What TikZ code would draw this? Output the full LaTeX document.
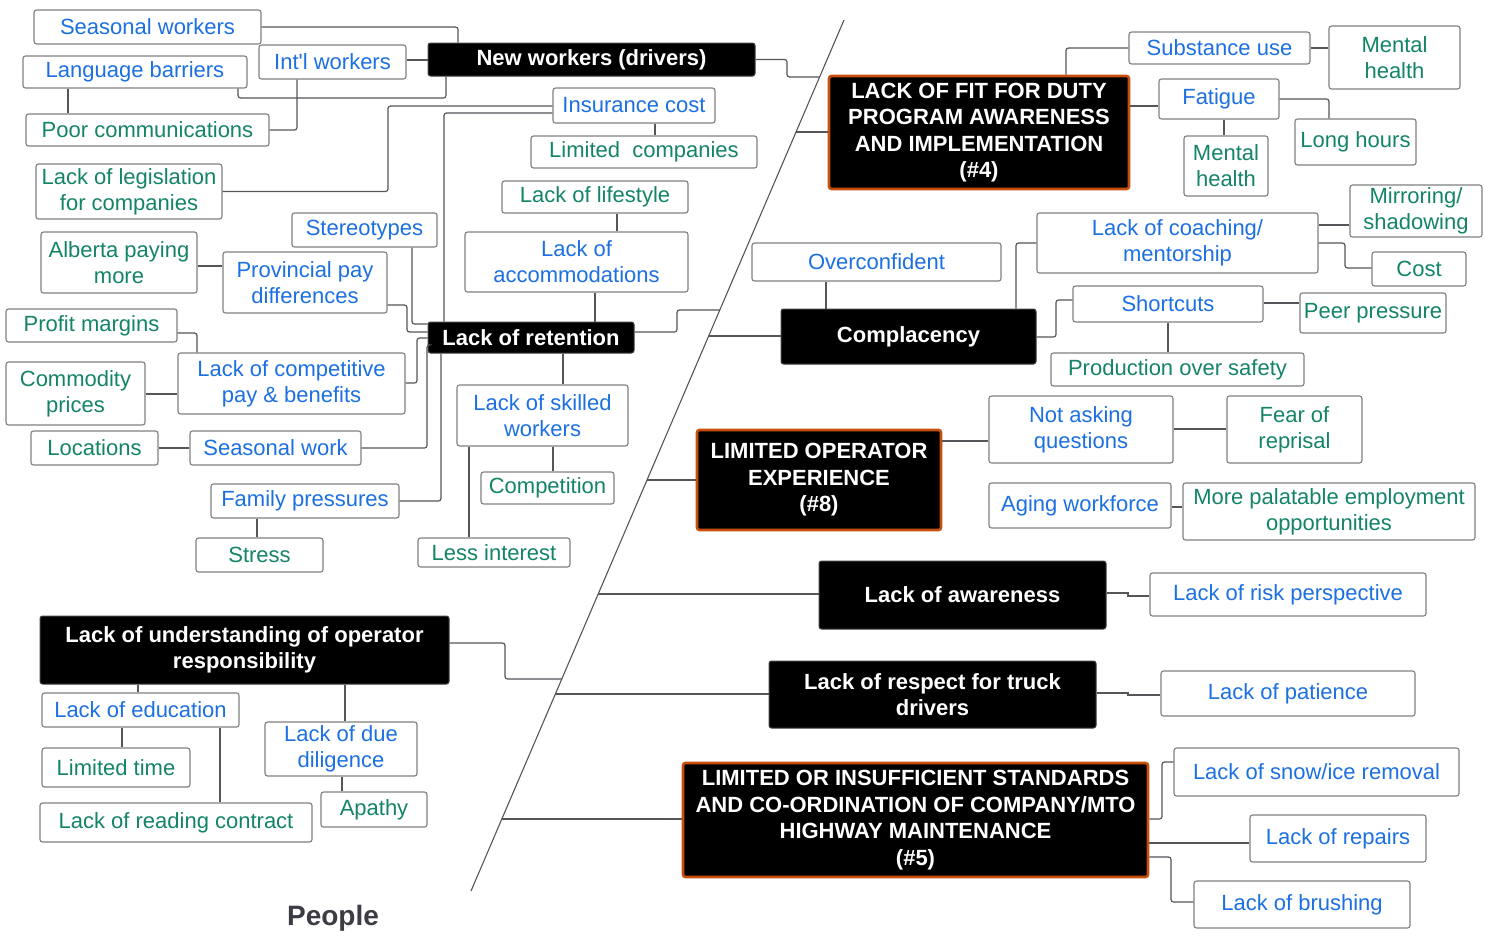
\documentclass[tikz,border=0pt]{standalone}
\usepackage{fontspec}
\setmainfont{Liberation Sans}
\definecolor{tblue}{RGB}{28,112,226}
\definecolor{tgreen}{RGB}{20,132,104}
\definecolor{bgray}{RGB}{128,128,128}
\definecolor{cgray}{RGB}{85,85,90}
\definecolor{oborder}{RGB}{200,80,12}
\definecolor{ptext}{RGB}{60,60,68}
\newcommand\bx[7]{\node[#6, minimum width={(#4-#2)*1pt}, minimum height={(#5-#3)*1pt}] (#1) at ({(#2+#4)/2},{(#3+#5)/2}) {#7};}
\begin{document}
\begin{tikzpicture}[x=1pt,y=-1pt,
  base/.style={inner sep=0pt, align=center, rounded corners=2.5pt, font=\fontsize{22}{26}\selectfont},
  bluebox/.style={base, draw=bgray, line width=1.1pt, fill=white, text=tblue},
  greenbox/.style={base, draw=bgray, line width=1.1pt, fill=white, text=tgreen},
  blackbox/.style={base, draw=black!75, line width=1pt, fill=black, text=white, font=\fontsize{22}{26.5}\selectfont\bfseries},
  orangebox/.style={blackbox, draw=oborder, line width=2.6pt},
  conn/.style={draw=cgray, line width=1.2pt, rounded corners=2.5pt},
  jog/.style={draw=cgray, line width=1.2pt, sharp corners},
  spine/.style={draw=cgray, line width=1.1pt}]
\useasboundingbox (0,0) rectangle (1494,937);

% spine
\coordinate (sp1) at (844,20);
\coordinate (sp2) at (471,891);
\coordinate (j1) at (819.6,77);
\coordinate (j2) at (796.0,132);
\coordinate (j3) at (719.8,310);
\coordinate (j4) at (708.7,336);
\coordinate (j5) at (647.0,480);
\coordinate (j6) at (598.2,594);
\coordinate (j7) at (561.8,679);
\coordinate (j8) at (555.4,694);
\coordinate (j9) at (501.8,819);

% ---------------- left: people / new workers ----------------
\bx{sw}{34}{10}{261}{44}{bluebox}{Seasonal workers}
\bx{iw}{259}{45}{406}{79}{bluebox}{Int\textquotesingle l workers}
\bx{nw}{428}{43}{755}{76}{blackbox}{New workers (drivers)}
\bx{lb}{23}{56}{247}{88}{bluebox}{Language barriers}
\bx{pc}{26}{114}{269}{146}{greenbox}{Poor communications}
\bx{ic}{553}{88}{715}{123}{bluebox}{Insurance cost}
\bx{lc}{531}{136}{757}{168}{greenbox}{Limited\ \ companies}
\bx{ll}{36}{164}{222}{219}{greenbox}{Lack of legislation\\for companies}
\bx{lf}{502}{181}{688}{213}{greenbox}{Lack of lifestyle}
\bx{st}{292}{213}{437}{247}{bluebox}{Stereotypes}
\bx{ap}{41}{232}{197}{293}{greenbox}{Alberta paying\\more}
\bx{pp}{223}{252}{387}{313}{bluebox}{Provincial pay\\differences}
\bx{la}{465}{232}{688}{292}{bluebox}{Lack of\\accommodations}
\bx{lr}{428}{322}{634}{353}{blackbox}{Lack of retention}
\bx{pm}{6}{309}{177}{342}{greenbox}{Profit margins}
\bx{cp}{6}{362}{145}{425}{greenbox}{Commodity\\prices}
\bx{lcp}{178}{353}{405}{414}{bluebox}{Lack of competitive\\pay \& benefits}
\bx{loc}{31}{431}{158}{465}{greenbox}{Locations}
\bx{swk}{190}{431}{361}{465}{bluebox}{Seasonal work}
\bx{lsw}{457}{385}{628}{446}{bluebox}{Lack of skilled\\workers}
\bx{comp}{481}{472}{614}{504}{greenbox}{Competition}
\bx{fp}{211}{484}{399}{518}{bluebox}{Family pressures}
\bx{stress}{196}{538}{323}{572}{greenbox}{Stress}
\bx{li}{418}{538}{570}{567}{greenbox}{Less interest}

% ---------------- lower left ----------------
\bx{lu}{40}{616}{449}{684}{blackbox}{Lack of understanding of operator\\responsibility}
\bx{le}{42}{693}{239}{727}{bluebox}{Lack of education}
\bx{ldd}{265}{722}{417}{776}{bluebox}{Lack of due\\diligence}
\bx{lt}{42}{748}{190}{787}{greenbox}{Limited time}
\bx{apa}{321}{792}{427}{827}{greenbox}{Apathy}
\bx{lrc}{40}{803}{312}{842}{greenbox}{Lack of reading contract}
\node[font=\fontsize{28}{32}\selectfont\bfseries, text=ptext, inner sep=0pt] (people) at (333,918) {People};

% ---------------- right ----------------
\bx{fit}{829}{76}{1129}{189}{orangebox}{LACK OF FIT FOR DUTY\\PROGRAM AWARENESS\\AND IMPLEMENTATION\\(\#4)}
\bx{su}{1129}{32}{1310}{64}{bluebox}{Substance use}
\bx{mh1}{1329}{26}{1460}{89}{greenbox}{Mental\\health}
\bx{fat}{1159}{79}{1279}{119}{bluebox}{Fatigue}
\bx{lh}{1295}{119}{1416}{165}{greenbox}{Long hours}
\bx{mh2}{1184}{136}{1268}{196}{greenbox}{Mental\\health}
\bx{mir}{1350}{185}{1482}{237}{greenbox}{Mirroring/\\shadowing}
\bx{coach}{1037}{213}{1318}{273}{bluebox}{Lack of coaching/\\mentorship}
\bx{over}{752}{243}{1001}{281}{bluebox}{Overconfident}
\bx{cost}{1372}{252}{1466}{286}{greenbox}{Cost}
\bx{compl}{781}{309}{1036}{364}{blackbox}{Complacency}
\bx{short}{1073}{286}{1263}{322}{bluebox}{Shortcuts}
\bx{peer}{1300}{293}{1446}{333}{greenbox}{Peer pressure}
\bx{prod}{1051}{353}{1304}{386}{greenbox}{Production over safety}
\bx{loe}{697}{430}{941}{530}{orangebox}{LIMITED OPERATOR\\EXPERIENCE\\(\#8)}
\bx{naq}{989}{396}{1173}{463}{bluebox}{Not asking\\questions}
\bx{fear}{1227}{396}{1362}{463}{greenbox}{Fear of\\reprisal}
\bx{aging}{989}{483}{1171}{528}{bluebox}{Aging workforce}
\bx{more}{1183}{483}{1475}{540}{greenbox}{More palatable employment\\opportunities}
\bx{aware}{819}{561}{1106}{629}{blackbox}{Lack of awareness}
\bx{risk}{1150}{573}{1426}{616}{bluebox}{Lack of risk perspective}
\bx{respect}{769}{661}{1096}{728}{blackbox}{Lack of respect for truck\\drivers}
\bx{pat}{1161}{671}{1415}{716}{bluebox}{Lack of patience}
\bx{std}{683}{763}{1148}{877}{orangebox}{LIMITED OR INSUFFICIENT STANDARDS\\AND CO-ORDINATION OF COMPANY/MTO\\HIGHWAY MAINTENANCE\\(\#5)}
\bx{snow}{1174}{748}{1459}{796}{bluebox}{Lack of snow/ice removal}
\bx{rep}{1250}{815}{1426}{862}{bluebox}{Lack of repairs}
\bx{brush}{1194}{881}{1410}{928}{bluebox}{Lack of brushing}

% ---------------- connectors ----------------
\draw[spine] (sp1) -- (sp2);
\draw[conn] (sw.east) -| (nw.north -| 458,0);
\draw[conn] (iw.east |- 0,60) -- (nw.west |- 0,60);
\draw[conn] (lb.south -| 238,0) |- (446,98) -- (nw.south -| 446,0);
\draw[conn] (lb.south -| 68,0) -- (pc.north -| 68,0);
\draw[conn] (iw.south -| 297,0) |- (pc.east);
\draw[conn] (nw.east) -| (787,77) -- (j1);
\draw[conn] (ic.west |- 0,106) -| (388,191.5) -- (ll.east);
\draw[conn] (ic.west |- 0,113) -| (lr.north -| 444,0);
\draw[conn] (ic.south -| 655,0) -- (lc.north -| 655,0);
\draw[conn] (lf.south -| 617,0) -- (la.north -| 617,0);
\draw[conn] (la.south -| 595,0) -- (lr.north -| 595,0);
\draw[conn] (lr.east |- 0,332) -| (677,310) -- (j3);
\draw[conn] (st.south -| 412,0) |- (lr.west |- 0,324);
\draw[conn] (pp.east |- 0,305) -| (407,332) -- (lr.west |- 0,332);
\draw[conn] (lcp.east |- 0,383) -| (417,338) -- (lr.west |- 0,338);
\draw[conn] (swk.east) -| (427,345) -- (lr.west |- 0,345);
\draw[conn] (fp.east) -| (lr.south -| 441,0);
\draw[conn] (lr.south -| 563,0) -- (lsw.north -| 563,0);
\draw[conn] (lsw.south -| 553,0) -- (comp.north -| 553,0);
\draw[conn] (lsw.south -| 469,0) -- (li.north -| 469,0);
\draw[conn] (ap.east |- 0,266) -- (pp.west |- 0,266);
\draw[conn] (pm.east |- 0,333) -| (lcp.north -| 197,0);
\draw[conn] (cp.east |- 0,394) -- (lcp.west |- 0,394);
\draw[conn] (loc.east) -- (swk.west);
\draw[conn] (fp.south -| 257,0) -- (stress.north -| 257,0);
\draw[conn] (lu.east |- 0,643) -| (505,679) -- (j7);
\draw[conn] (lu.south -| 138,0) -- (le.north -| 138,0);
\draw[conn] (lu.south -| 345,0) -- (ldd.north -| 345,0);
\draw[conn] (le.south -| 122,0) -- (lt.north -| 122,0);
\draw[conn] (le.south -| 220,0) -- (lrc.north -| 220,0);
\draw[conn] (ldd.south -| 342,0) -- (apa.north -| 342,0);
\draw[conn] (j2) -- (fit.west |- 0,132);
\draw[conn] (fit.north -| 1066,0) |- (su.west |- 0,48);
\draw[conn] (fit.east |- 0,106) -- (fat.west |- 0,106);
\draw[conn] (su.east |- 0,48) -- (mh1.west |- 0,48);
\draw[conn] (fat.east |- 0,99) -| (lh.north -| 1329,0);
\draw[conn] (fat.south -| 1224,0) -- (mh2.north -| 1224,0);
\draw[conn] (compl.north -| 1016,0) |- (coach.west |- 0,243);
\draw[conn] (compl.north -| 826,0) -- (over.south -| 826,0);
\draw[conn] (j4) -- (compl.west |- 0,336);
\draw[conn] (compl.east |- 0,337) -| (1056,300) -- (short.west |- 0,300);
\draw[conn] (short.south -| 1168,0) -- (prod.north -| 1168,0);
\draw[conn] (short.east |- 0,303) -- (peer.west |- 0,303);
\draw[conn] (coach.east |- 0,225) -- (mir.west |- 0,225);
\draw[conn] (coach.east |- 0,243) -| (1345,268) -- (cost.west |- 0,268);
\draw[conn] (j5) -- (loe.west |- 0,480);
\draw[conn] (loe.east |- 0,441) -- (naq.west |- 0,441);
\draw[conn] (naq.east |- 0,429) -- (fear.west |- 0,429);
\draw[conn] (aging.east |- 0,507) -- (more.west |- 0,507);
\draw[conn] (j6) -- (aware.west |- 0,594);
\draw[jog] (aware.east |- 0,593) -| (1128,596) -- (risk.west |- 0,596);
\draw[conn] (j8) -- (respect.west |- 0,694);
\draw[jog] (respect.east |- 0,693) -| (1128,695) -- (pat.west |- 0,695);
\draw[conn] (j9) -- (std.west |- 0,819);
\draw[conn] (std.east |- 0,819) -| (1162,762) -- (snow.west |- 0,762);
\draw[conn] (std.east |- 0,843) -- (rep.west |- 0,843);
\draw[conn] (std.east |- 0,857) -| (1171,902) -- (brush.west |- 0,902);
\end{tikzpicture}
\end{document}
